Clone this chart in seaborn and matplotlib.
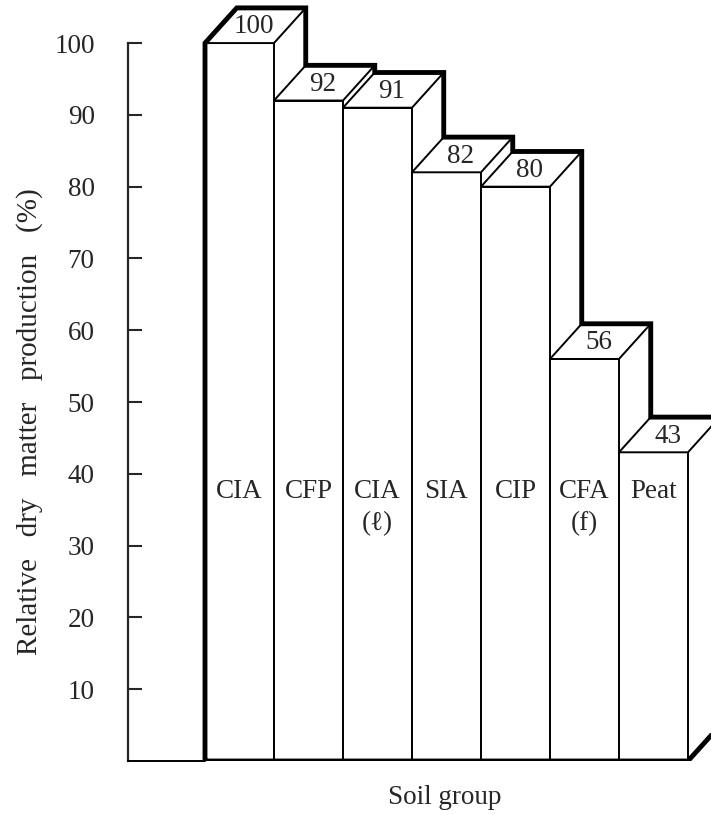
import matplotlib
matplotlib.use("Agg")
import matplotlib.pyplot as plt
from matplotlib.patches import Polygon
import seaborn as sns

# Soil groups and their relative dry matter production (%)
soil_groups = ["CIA", "CFP", "CIA", "SIA", "CIP", "CFA", "Peat"]
sub_labels = ["", "", "(ℓ)", "", "", "(f)", ""]
production = [100, 92, 91, 82, 80, 56, 43]
y_ticks = [10, 20, 30, 40, 50, 60, 70, 80, 90, 100]

sns.set_style("ticks")
plt.rcParams["font.family"] = ["Liberation Serif", "DejaVu Serif"]

FS = 19.5
THIN = 1.4
THICK = 3.5
DX = 0.46   # depth offset along x (bar widths)
DY = 4.9    # depth offset along y (percent units)

fig = plt.figure(figsize=(7.11, 8.15), dpi=100)
ax = fig.add_axes([128 / 711, 54 / 815, 583 / 711, 761 / 815])

keys = [f"{g}{s}" for g, s in zip(soil_groups, sub_labels)]
sns.barplot(x=keys, y=production, color="white", saturation=1, width=1.0,
            edgecolor="black", linewidth=THIN, ax=ax, zorder=2)

n = len(production)
# top faces of the blocks with their values
for i, h in enumerate(production):
    top = Polygon([(i - 0.5, h), (i + 0.5, h), (i + 0.5 + DX, h + DY),
                   (i - 0.5 + DX, h + DY)], closed=True, facecolor="white",
                  edgecolor="black", linewidth=THIN, zorder=3, clip_on=False)
    ax.add_patch(top)
    ax.text(i + DX / 2 - 0.02, h + DY / 2 - 0.2, str(h), ha="center",
            va="center", fontsize=FS, zorder=5)

# group names written inside the front faces
for i, (g, s) in enumerate(zip(soil_groups, sub_labels)):
    ax.text(i, 37.6, g, ha="center", va="center", fontsize=FS, zorder=5)
    if s:
        ax.text(i, 33.0, s, ha="center", va="center", fontsize=FS, zorder=5)

# heavy outline round the back of the stepped blocks
xs = [-0.5, -0.5, -0.5 + DX]
ys = [0, production[0], production[0] + DY]
for i, h in enumerate(production):
    xs.append(i + 0.5 + DX)
    ys.append(h + DY)
    if i + 1 < n:
        xs.append(i + 0.5 + DX)
        ys.append(production[i + 1] + DY)
xs += [n - 0.5 + DX, n - 0.5, -0.5]
ys += [DY, 0, 0]
ax.plot(xs, ys, color="black", linewidth=THICK, solid_joinstyle="miter",
        solid_capstyle="butt", zorder=6, clip_on=True)

xmin = -0.5 - 77 / 69
ax.set_xlim(xmin, n - 0.5 + 23 / 69)
ax.set_ylim(0, 106)
ax.plot([xmin, -0.5], [0, 0], color="black", linewidth=THIN, zorder=4,
        clip_on=False)

for side in ["top", "right", "bottom"]:
    ax.spines[side].set_visible(False)
ax.spines["left"].set_bounds(0, 100)
ax.spines["left"].set_linewidth(1.6)
ax.set_xticks([])
ax.set_yticks(y_ticks)
ax.set_yticklabels([str(t) for t in y_ticks])
ax.tick_params(axis="y", direction="in", length=10, width=1.5, pad=24,
               labelsize=FS)
ax.set_xlabel("")
ax.set_ylabel("")

fig.text(445 / 711, 1 - 798 / 815, "Soil group", ha="center", va="center",
         fontsize=FS)
fig.text(30 / 711, 1 - 422 / 815,
         "Relative   dry   matter   production   (%)",
         rotation=90, ha="center", va="center", fontsize=21)

fig.savefig("out.png", dpi=100, facecolor="white")
